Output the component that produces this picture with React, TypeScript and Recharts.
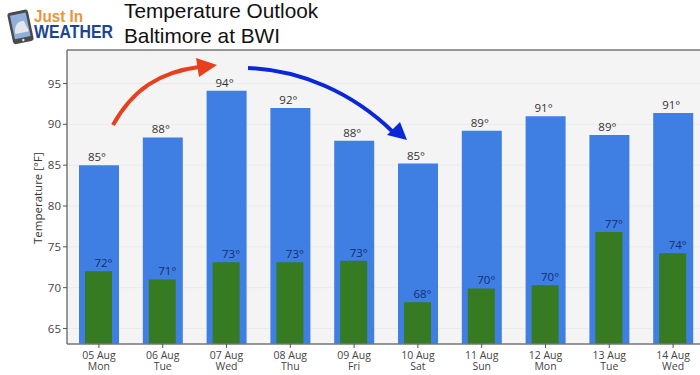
import React from "react";
import { ComposedChart, Bar, XAxis, YAxis, CartesianGrid, ReferenceLine, LabelList } from "recharts";

const dates = ["05 Aug", "06 Aug", "07 Aug", "08 Aug", "09 Aug", "10 Aug", "11 Aug", "12 Aug", "13 Aug", "14 Aug"];
const days = ["Mon", "Tue", "Wed", "Thu", "Fri", "Sat", "Sun", "Mon", "Tue", "Wed"];
const highs = [85, 88.4, 94.1, 92, 88, 85.2, 89.2, 91, 88.7, 91.4];
const lows = [72, 71, 73.1, 73.1, 73.3, 68.2, 69.9, 70.3, 76.8, 74.2];
const highLabels = ["85°", "88°", "94°", "92°", "88°", "85°", "89°", "91°", "89°", "91°"];
const lowLabels = ["72°", "71°", "73°", "73°", "73°", "68°", "70°", "70°", "77°", "74°"];
const yTicks = [65, 70, 75, 80, 85, 90, 95];
const yMin = 63.1;
const yMax = 99.1;

const data = dates.map((d, i) => ({ date: d, high: highs[i], low: lows[i] }));
const FONT = "'Open Sans', 'Noto Sans', sans-serif";

const DateTick = (props: any) => {
  const { x, y, payload, index } = props;
  return (
    <text x={x} y={y} textAnchor="middle" fontFamily={FONT} fontSize={10.5} fill="#444">
      <tspan x={x} dy={9}>{payload.value}</tspan>
      <tspan x={x} dy={11}>{days[index]}</tspan>
    </text>
  );
};

const makeLabel = (labels: string[], dx: number, color: string) => (props: any) => {
  const { x, y, width, index } = props;
  return (
    <text x={x + width / 2 + dx} y={y - 4} textAnchor="middle" fontFamily={FONT} fontSize={11.5} fill={color}>
      {labels[index]}
    </text>
  );
};

const Logo = () => (
  <svg width={125} height={48} style={{ position: "absolute", left: 0, top: 0 }}>
    <g transform="rotate(-12 20 27)">
      <rect x={10} y={11} width={21} height={32} rx={3} fill="#4a4a4a" />
      <rect x={12.5} y={14} width={16} height={24} fill="#8fb0dc" />
      <path d="M14 33 C14 24 20 20 25 22 L28 33 Z" fill="#e6e6ea" />
      <circle cx={20.5} cy={40.5} r={1.3} fill="#ddd" />
    </g>
    <text x={34} y={22} fontFamily="'Liberation Sans', sans-serif" fontWeight={700} fontSize={17} fill="#e8963a" textLength={49} lengthAdjust="spacingAndGlyphs">Just In</text>
    <text x={34} y={38} fontFamily="'Liberation Sans', sans-serif" fontWeight={700} fontSize={18} fill="#1c4590" textLength={79} lengthAdjust="spacingAndGlyphs">WEATHER</text>
  </svg>
);

const Arrows = () => (
  <svg width={700} height={375} style={{ position: "absolute", left: 0, top: 0, pointerEvents: "none" }}>
    <path d="M113 125 C133 89 160 72 199 67" fill="none" stroke="#e8401c" strokeWidth={4} />
    <polygon points="196,58 217,65 199,77" fill="#e8401c" />
    <path d="M248 68 C300 70 352 92 393 132" fill="none" stroke="#0a28d8" strokeWidth={4} />
    <polygon points="400,122 407,140 387,135" fill="#0a28d8" />
  </svg>
);

export default function App() {
  return (
    <div style={{ position: "fixed", left: 0, top: 0, width: 700, height: 375, overflow: "hidden", background: "#fff" }}>
      <ComposedChart width={720} height={375} data={data} barGap={0} margin={{ top: 50, right: 15, bottom: 0, left: 0 }}>
        <CartesianGrid fill="#f4f4f4" stroke="#ebebeb" vertical={false} />
        <XAxis xAxisId="a" dataKey="date" height={31} interval={0} tick={<DateTick />} tickLine={{ stroke: "#555" }} tickSize={4} axisLine={{ stroke: "#777", strokeWidth: 1.5 }} />
        <XAxis xAxisId="b" dataKey="date" hide />
        <YAxis
          width={67}
          type="number"
          domain={[yMin, yMax]}
          ticks={yTicks}
          allowDataOverflow
          tick={{ fontFamily: FONT, fontSize: 11.5, fill: "#444" }}
          tickLine={{ stroke: "#555" }}
          tickSize={4}
          axisLine={{ stroke: "#777", strokeWidth: 1.5 }}
          label={{ value: "Temperature [°F]", angle: -90, position: "insideLeft", offset: 0, dx: 38, dy: 47, style: { fontFamily: FONT, fontSize: 11.5, fill: "#333" } }}
        />
        <ReferenceLine xAxisId="a" y={yMax} stroke="#777" strokeWidth={1.5} />
        <Bar xAxisId="a" dataKey="high" barSize={40} fill="#3f7fe3" isAnimationActive={false}>
          <LabelList dataKey="high" content={makeLabel(highLabels, -2, "#333")} />
        </Bar>
        <Bar xAxisId="b" dataKey="low" barSize={27} fill="#367a22" isAnimationActive={false}>
          <LabelList dataKey="low" content={makeLabel(lowLabels, 5, "#0f2f70")} />
        </Bar>
      </ComposedChart>
      <Arrows />
      <Logo />
      <div style={{ position: "absolute", left: 124, top: -2, fontFamily: "'Liberation Sans', sans-serif", fontSize: 20.8, lineHeight: "25px", color: "#111" }}>
        Temperature Outlook<br />Baltimore at BWI
      </div>
    </div>
  );
}
